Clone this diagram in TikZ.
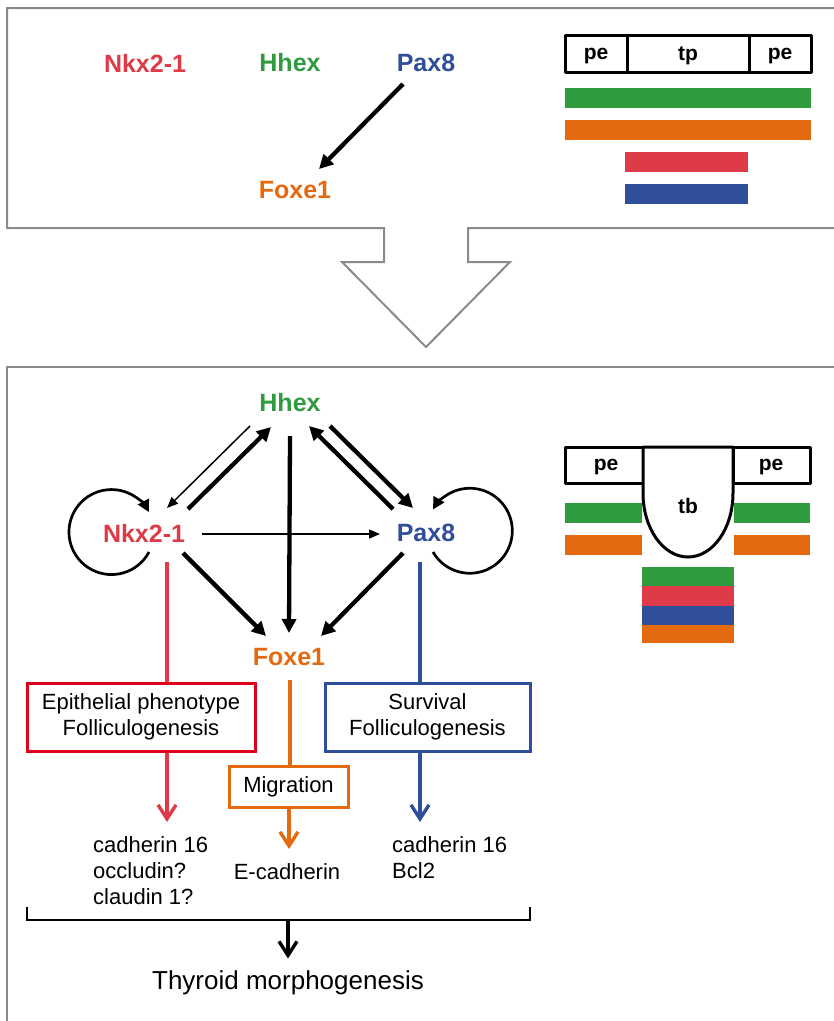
\documentclass[tikz,border=0pt]{standalone}
\usepackage{fontspec}
\setmainfont{Liberation Sans}
\usetikzlibrary{arrows.meta,calc}
\definecolor{cred}{HTML}{DF3A47}
\definecolor{cgreen}{HTML}{2F9B3E}
\definecolor{cblue}{HTML}{2F4F9B}
\definecolor{corange}{HTML}{E5690F}
\definecolor{boxred}{HTML}{E0001B}
\definecolor{framegray}{HTML}{8A8A8A}
\begin{document}
\begin{tikzpicture}[x=1pt,y=-1pt,
  gene/.style={font=\bfseries\fontsize{25}{30}\selectfont, inner sep=0pt},
  lbl/.style={font=\fontsize{22}{26}\selectfont, inner sep=0pt},
  seg/.style={font=\bfseries\fontsize{21}{24}\selectfont, inner sep=0pt},
  bigarrow/.style={line width=4.3pt, -{Triangle[length=14pt,width=14pt]}},
  smallarrow/.style={line width=1.5pt, -{Triangle[length=11pt,width=9pt]}},
  looparrow/.style={line width=2.7pt, -{Triangle[length=12pt,width=12pt]}},
  veearrow/.style={line width=3.4pt, -{Straight Barb[length=14pt,width=18pt]}},
  fnbox/.style={lbl, draw, line width=3pt, align=center},
  framel/.style={draw=framegray, line width=2pt},
  seglines/.style={line width=3pt, line join=round}]
\useasboundingbox (0,0) rectangle (834,1021);
\fill[white] (0,0) rectangle (834,1021);

% frames
\draw[framel] (840,8) -- (7,8) -- (7,228) -- (384,228) -- (384,262) -- (342,262)
  -- (426,347) -- (510,262) -- (468,262) -- (468,228) -- (840,228);
\draw[framel] (840,367) -- (7,367) -- (7,1030);

% ---------- top panel ----------
\node[gene, text=cred] (tnkx) at (145,63) {Nkx2-1};
\node[gene, text=cgreen] (thhex) at (290,63) {Hhex};
\node[gene, text=cblue] (tpax) at (426,63) {Pax8};
\node[gene, text=corange] (tfoxe) at (295,190) {Foxe1};
\draw[bigarrow] ($(tpax)+(-23,21)$) -- ($(tfoxe)+(24,-21)$);

\draw[seglines] (565,35) rectangle (811,72);
\draw[seglines] (627,35) -- (627,72);
\draw[seglines] (749,35) -- (749,72);
\node[seg] (tpe1) at (596,56) {pe};
\node[seg] (ttp) at (688,56) {tp};
\node[seg] (tpe2) at (780,56) {pe};
\fill[cgreen] (565,88) rectangle (811,108);
\fill[corange] (565,120) rectangle (811,140);
\fill[cred] (625,152) rectangle (748,172);
\fill[cblue] (625,184) rectangle (748,204);

% ---------- bottom panel: right diagram ----------
\draw[seglines] (565,447) rectangle (643,483);
\draw[seglines] (733,447) rectangle (810,483);
\draw[seglines, fill=white] (643,447) -- (643,493)
  arc[start angle=180, end angle=0, x radius=45, y radius=64] -- (733,447) -- cycle;
\node[seg] (bpe1) at (606,467) {pe};
\node[seg] (bpe2) at (771,467) {pe};
\node[seg] (btb) at (688,506) {tb};
\fill[cgreen] (565,503) rectangle (642,523);
\fill[cgreen] (734,503) rectangle (810,523);
\fill[corange] (565,535) rectangle (642,555);
\fill[corange] (734,535) rectangle (810,555);
\fill[cgreen] (642,567) rectangle (734,586);
\fill[cred] (642,586) rectangle (734,606);
\fill[cblue] (642,606) rectangle (734,625);
\fill[corange] (642,625) rectangle (734,643);

% ---------- bottom panel: network ----------
\node[gene, text=cgreen] (hhex) at (290,403) {Hhex};
\node[gene, text=cred] (nkx) at (144,533) {Nkx2-1};
\node[gene, text=cblue] (pax) at (426,533) {Pax8};
\node[gene, text=corange] (foxe) at (289,657) {Foxe1};

\draw[smallarrow] ($(nkx)+(58,1)$) -- ($(pax)+(-46,1)$);
\draw[smallarrow] ($(hhex)+(-40,23)$) -- ($(nkx)+(23,-25)$);
\draw[bigarrow] ($(nkx)+(44,-24)$) -- ($(hhex)+(-19,24)$);
\draw[bigarrow] ($(hhex)+(0,33)$) -- ($(foxe)+(0,-24)$);
\draw[bigarrow] ($(pax)+(-33,-24)$) -- ($(hhex)+(19,23)$);
\draw[bigarrow] ($(hhex)+(40,23)$) -- ($(pax)+(-13,-25)$);
\draw[bigarrow] ($(nkx)+(39,20)$) -- ($(foxe)+(-23,-21)$);
\draw[bigarrow] ($(pax)+(-23,20)$) -- ($(foxe)+(32,-21)$);

\draw[looparrow] ($(nkx)+(5,19)$) arc[start angle=28, end angle=332, radius=42.5];
\draw[looparrow] ($(pax)+(7,19)$) arc[start angle=150, end angle=-150, radius=42.5];

% branches
\node[fnbox, draw=boxred, minimum width=228pt, minimum height=68pt] (redbox) at (141,717)
  {Epithelial phenotype\\Folliculogenesis};
\node[fnbox, draw=cblue, minimum width=205pt, minimum height=68pt] (bluebox) at (427.5,717)
  {Survival\\Folliculogenesis};
\node[fnbox, draw=corange, minimum width=119pt, minimum height=41pt] (migbox) at (288.5,786.5)
  {Migration};

\coordinate (nkxdrop) at ($(nkx)+(23,29)$);
\coordinate (paxdrop) at ($(pax)+(-6,29)$);
\coordinate (foxedrop) at ($(foxe)+(1,23)$);
\coordinate (redtip) at (167,822);
\coordinate (bluetip) at (420,822);
\coordinate (orangetip) at (289,849);

\draw[cred, line width=3.4pt] (nkxdrop) -- (nkxdrop |- redbox.north);
\draw[cblue, line width=3.4pt] (paxdrop) -- (paxdrop |- bluebox.north);
\draw[corange, line width=3.4pt] (foxedrop) -- (foxedrop |- migbox.north);
\draw[veearrow, cred] (redtip |- redbox.south) -- (redtip);
\draw[veearrow, cblue] (bluetip |- bluebox.south) -- (bluetip);
\draw[veearrow, corange] (orangetip |- migbox.south) -- (orangetip);

\node[lbl, anchor=west, align=left] (list1) at (93,871) {cadherin 16\\occludin?\\claudin 1?};
\node[lbl] (ecad) at (287,872) {E-cadherin};
\node[lbl, anchor=west, align=left] (list3) at (392,858) {cadherin 16\\Bcl2};

\draw[line width=1.8pt] (27,907) -- (27,920) -- (530,920) -- (530,907);
\coordinate (brmid) at (288,920);
\node[font=\fontsize{26}{30}\selectfont, inner sep=0pt] (thy) at (288,982.8) {Thyroid morphogenesis};
\draw[veearrow, black] (brmid) -- ([yshift=12pt]thy.north);
\end{tikzpicture}
\end{document}
